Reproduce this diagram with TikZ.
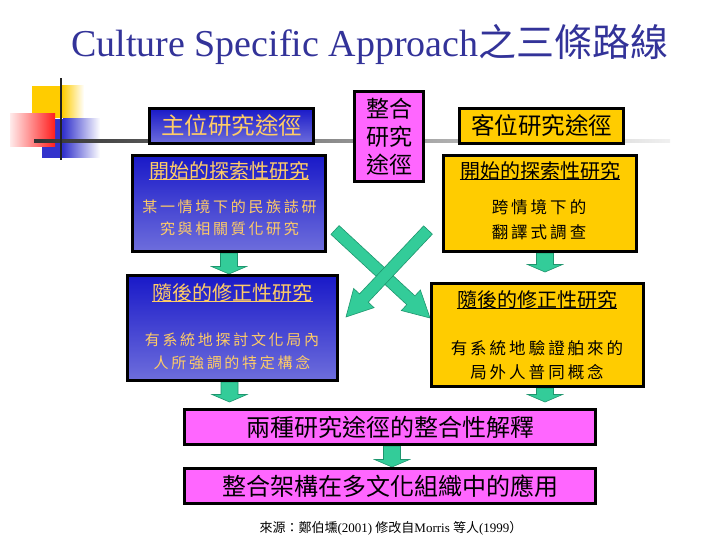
\documentclass[tikz,border=0pt]{standalone}
\usepackage{fontspec}
\setmainfont{Liberation Serif}
\newfontfamily\cjk{Noto Sans CJK TC}
\usetikzlibrary{calc}
\pgfdeclarelayer{background}
\pgfsetlayers{background,main}
\definecolor{navy}{RGB}{51,51,153}
\definecolor{ylw}{RGB}{255,204,0}
\definecolor{pnk}{RGB}{255,102,255}
\definecolor{mint}{RGB}{51,204,153}
\definecolor{mintdk}{RGB}{30,150,110}
\definecolor{cream}{RGB}{255,204,102}
\definecolor{bluetop}{RGB}{25,25,200}
\definecolor{bluebot}{RGB}{110,110,220}
\definecolor{decoblue}{RGB}{51,51,204}
\definecolor{decored}{RGB}{255,30,30}
\definecolor{decopink}{RGB}{255,235,235}
\definecolor{lndark}{RGB}{51,51,51}
\definecolor{lnlight}{RGB}{240,240,240}
\definecolor{vline}{RGB}{34,34,34}

\newcommand\spaced[2]{\def\spcsep{\kern#1\relax}\spcsep\spcloop#2\relax}
\def\spcloop#1{\ifx#1\relax\else#1\spcsep\expandafter\spcloop\fi}

\newcommand\downblk[2]{%
  \path[arrowblk] let \p1=#1, \p2=#2 in
   (\x1-8.5pt,\y1) -- (\x1-8.5pt,\y2+7.5pt) -- (\x1-17.5pt,\y2+7.5pt) -- (\x1,\y2)
   -- (\x1+17.5pt,\y2+7.5pt) -- (\x1+8.5pt,\y2+7.5pt) -- (\x1+8.5pt,\y1) -- cycle;}

\newcommand\diagarrow[2]{%
  \path[arrowblk] let \p1=#1, \p2=#2,
    \n1={atan2(\y2-\y1,\x2-\x1)},
    \n2={veclen(\x2-\x1,\y2-\y1)-26pt} in
    ($(\p1)+(\n1+90:6pt)$) --
    ($(\p1)+(\n1:\n2)+(\n1+90:6pt)$) --
    ($(\p1)+(\n1:\n2)+(\n1+90:14pt)$) --
    (\p2) --
    ($(\p1)+(\n1:\n2)+(\n1-90:14pt)$) --
    ($(\p1)+(\n1:\n2)+(\n1-90:6pt)$) --
    ($(\p1)+(\n1-90:6pt)$) -- cycle;}

\tikzset{
  box/.style={draw=black, line width=3pt, inner sep=0pt},
  bluebox/.style={box, top color=bluetop, bottom color=bluebot},
  ylwbox/.style={box, fill=ylw},
  pnkbox/.style={box, fill=pnk},
  cjkbig/.style={font=\cjk\fontsize{23.5}{28}\selectfont},
  headtxt/.style={font=\cjk\fontsize{20}{24}\selectfont, inner sep=0pt, anchor=base},
  descl/.style={font=\cjk\fontsize{15}{22.5}\selectfont, inner sep=0pt, align=center},
  descr/.style={font=\cjk\fontsize{16.5}{24.5}\selectfont, inner sep=0pt, align=center},
  arrowblk/.style={fill=mint, draw=mintdk, line width=0.6pt, line join=miter},
  uline/.style={line width=1.2pt},
}

\begin{document}
\begin{tikzpicture}[x=1pt,y=1pt]
\useasboundingbox (0,0) rectangle (720,-540);

% title
\node[font=\fontsize{38}{44}\selectfont, text=navy, anchor=base, inner sep=0pt] (title) at (370,-57)
  {Culture Specific Approach{\cjk 之三條路線}};

% top row
\node[bluebox, text=cream, cjkbig, minimum width=164pt, minimum height=35pt] (lt) at (231.5,-126) {主位研究途徑};
\node[ylwbox, cjkbig, minimum width=164pt, minimum height=35pt] (rt) at (541.5,-126) {客位研究途徑};
\node[pnkbox, font=\cjk\fontsize{23}{28}\selectfont, align=center, minimum width=69pt, minimum height=90pt] (pk) at (389,-136.5) {整合\\研究\\途徑};

% first study boxes
\node[bluebox, minimum width=193pt, minimum height=96pt] (lb1) at (229,-203.5) {};
\node[ylwbox, minimum width=193pt, minimum height=96pt] (rb1) at (540,-203.5) {};
\node[headtxt, text=cream] (lb1h) at (229,-178.6) {開始的探索性研究};
\draw[uline, cream] ($(lb1h.base west)+(0,-1)$) -- ($(lb1h.base east)+(0,-1)$);
\node[headtxt] (rb1h) at (540,-178.6) {開始的探索性研究};
\draw[uline, black] ($(rb1h.base west)+(0,-1)$) -- ($(rb1h.base east)+(0,-1)$);
\node[descl, text=cream] (lb1d) at (229.5,-218) {\spaced{2.7pt}{某一情境下的民族誌研}\\\spaced{2.7pt}{究與相關質化研究}};
\node[descr] (rb1d) at (539,-219.5) {\spaced{3pt}{跨情境下的}\\\spaced{3pt}{翻譯式調查}};

% second study boxes
\node[bluebox, minimum width=210pt, minimum height=105pt] (lb2) at (232.5,-328) {};
\node[ylwbox, minimum width=212pt, minimum height=103pt] (rb2) at (537.5,-335) {};
\node[headtxt, text=cream] (lb2h) at (232.5,-300.6) {隨後的修正性研究};
\draw[uline, cream] ($(lb2h.base west)+(0,-1)$) -- ($(lb2h.base east)+(0,-1)$);
\node[headtxt] (rb2h) at (537,-307.6) {隨後的修正性研究};
\draw[uline, black] ($(rb2h.base west)+(0,-1)$) -- ($(rb2h.base east)+(0,-1)$);
\node[descl, text=cream] (lb2d) at (232,-351.5) {\spaced{2.7pt}{有系統地探討文化局內}\\\spaced{2.7pt}{人所強調的特定構念}};
\node[descr] (rb2d) at (537,-360) {\spaced{3pt}{有系統地驗證舶來的}\\\spaced{3pt}{局外人普同概念}};

% integration boxes
\node[pnkbox, minimum width=411pt, minimum height=35pt, font=\cjk\fontsize{24}{28}\selectfont] (p1) at (390,-427) {兩種研究途徑的整合性解釋};
\node[pnkbox, minimum width=411pt, minimum height=35pt, font=\cjk\fontsize{24}{28}\selectfont] (p2) at (390,-486) {整合架構在多文化組織中的應用};

% source
\node[font=\fontsize{13}{15}\selectfont, inner sep=0pt] (src) at (391,-528)
  {{\cjk 來源：鄭伯壎}(2001) {\cjk 修改自}Morris {\cjk 等人}(1999{\cjk ）}};

\begin{pgfonlayer}{background}
  \fill[white] (0,0) rectangle (720,-540);
  % decoration
  \fill[ylw] (32,-86) rectangle (62,-118);
  \shade[left color=ylw, right color=white] (62,-86) rectangle (84,-118);
  \fill[decoblue] (42,-119) rectangle (63,-158);
  \shade[left color=decoblue, right color=white] (63,-119) rectangle (100,-158);
  \shade[left color=decopink, right color=decored] (10,-114) rectangle (55,-147);
  \shade[left color=lndark, right color=lnlight] (34,-139.8) rectangle (670,-142.3);
  \fill[vline] (59.8,-78) rectangle (62.3,-160);
  % connectors
  \downblk{(lb1.south)}{(lb2.north)}
  \downblk{([xshift=5pt]rb1.south)}{($(rb2.north)+(0,10)$)}
  \downblk{([xshift=-3pt]lb2.south)}{($(p1.north)+(0,6)$)}
  \downblk{([xshift=7.5pt]rb2.south)}{($(p1.north)+(0,6)$)}
  \downblk{([xshift=2pt]p1.south)}{(p2.north)}
  \diagarrow{($(lb1.south east)+(8,23)$)}{($(rb2.west)+(0,17)$)}
  \diagarrow{($(rb1.south west)+(-14,23)$)}{($(lb2.east)+(7,11)$)}
\end{pgfonlayer}
\end{tikzpicture}
\end{document}
